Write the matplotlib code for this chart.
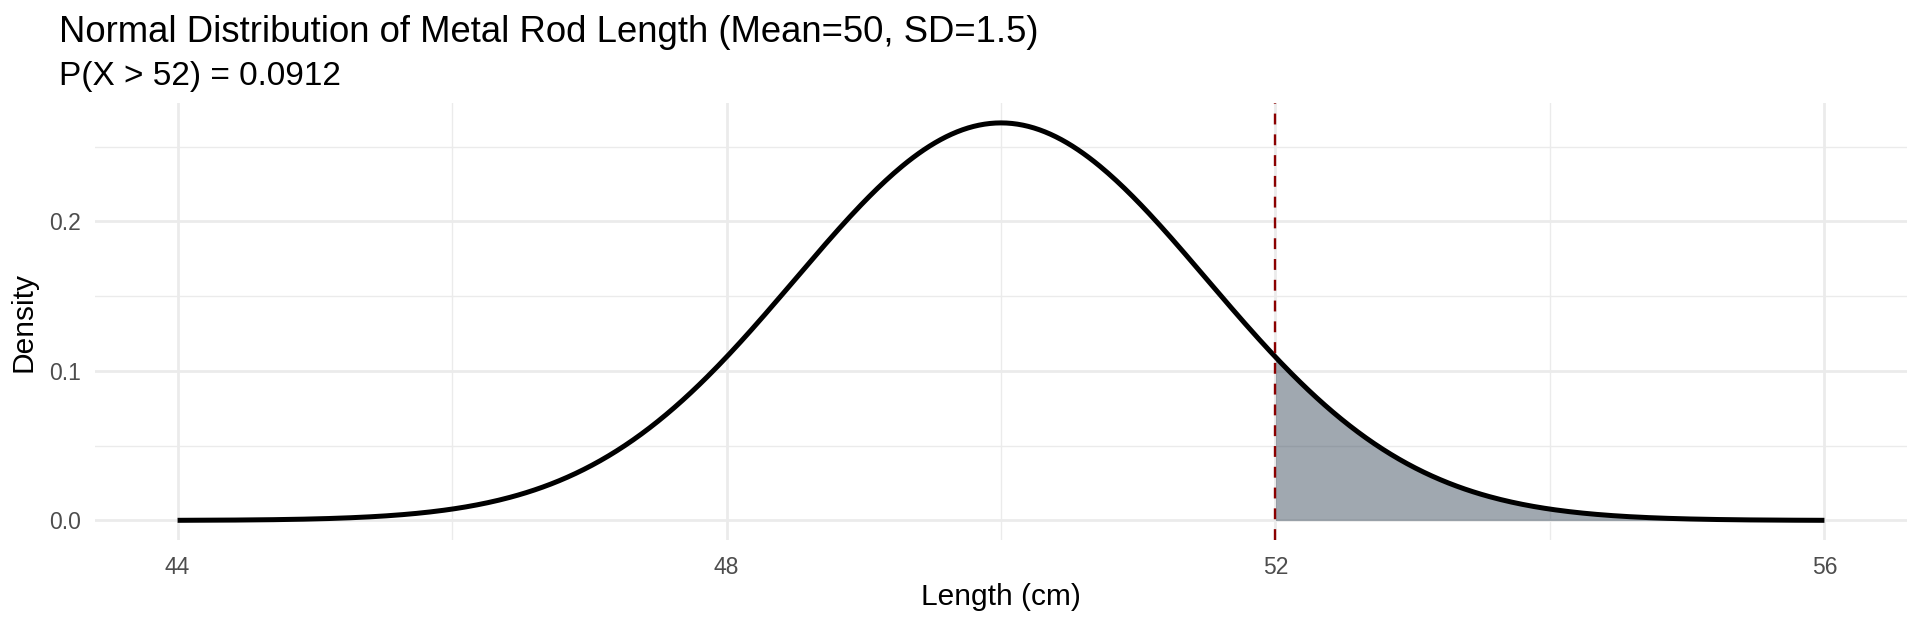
import numpy as np
import matplotlib
matplotlib.use('Agg')
import matplotlib.pyplot as plt
from matplotlib.ticker import MultipleLocator

plt.rcParams['font.family'] = ['Liberation Sans', 'DejaVu Sans']

# values stated on the chart
mean = 50
sd = 1.5
x_min, x_max = 44, 56
cutoff = 52
p_tail = 0.0912
x_ticks = [44, 48, 52, 56]
y_ticks = [0.0, 0.1, 0.2]

x = np.linspace(x_min, x_max, 601)
density = np.exp(-0.5 * ((x - mean) / sd) ** 2) / (sd * np.sqrt(2 * np.pi))

fig = plt.figure(figsize=(19.2, 6.24), dpi=100)
ax = fig.add_axes([0.0496, 0.1341, 0.9435, 0.7008])

tail = x >= cutoff
ax.fill_between(x[tail], 0, density[tail], color='#2c3e50', alpha=0.45, lw=0, zorder=2)
ax.plot(x, density, color='black', lw=3.6, zorder=3, solid_capstyle='butt')
ax.axvline(cutoff, color='#8B0000', lw=1.7, linestyle=(0, (4.6, 4.2)), zorder=4)

pad_x = (x_max - x_min) * 0.05
ax.set_xlim(x_min - pad_x, x_max + pad_x)
ymax = density.max()
ax.set_ylim(-ymax * 0.05, ymax * 1.05)

ax.set_xticks(x_ticks)
ax.set_yticks(y_ticks)
ax.set_yticklabels([f'{v:.1f}' for v in y_ticks])
ax.xaxis.set_minor_locator(MultipleLocator(2))
ax.yaxis.set_minor_locator(MultipleLocator(0.05))

ax.grid(True, which='major', color='#EBEBEB', lw=2.0, zorder=0)
ax.grid(True, which='minor', color='#EBEBEB', lw=1.0, zorder=0)
ax.set_axisbelow(True)
for s in ax.spines.values():
    s.set_visible(False)
ax.tick_params(which='both', length=0)
ax.tick_params(axis='x', pad=11, labelsize=16.5, labelcolor='#4D4D4D')
ax.tick_params(axis='y', pad=10, labelsize=16.5, labelcolor='#4D4D4D')

fig.text(1001 / 1920, 1 - 597 / 624, 'Length (cm)', ha='center', va='center', fontsize=21.5)
fig.text(24 / 1920, 1 - 322 / 624, 'Density', ha='center', va='center', fontsize=21.5, rotation=90)
fig.text(59 / 1920, 1 - 42 / 624, 'Normal Distribution of Metal Rod Length (Mean=50, SD=1.5)',
         ha='left', va='baseline', fontsize=26.3)
fig.text(59 / 1920, 1 - 85 / 624, f'P(X > {cutoff}) = {p_tail:.4f}',
         ha='left', va='baseline', fontsize=24)

fig.savefig('out.png', dpi=100, facecolor='white')
